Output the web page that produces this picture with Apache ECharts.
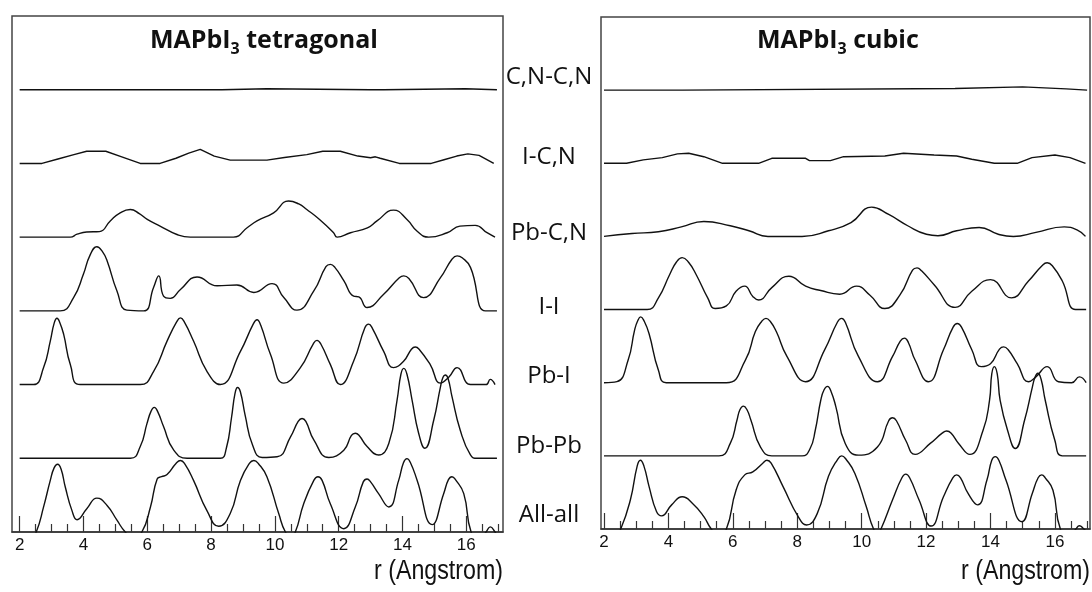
<!DOCTYPE html>
<html>
<head>
<meta charset="utf-8">
<script src="https://cdn.jsdelivr.net/npm/echarts@6/dist/echarts.min.js"></script>
<style>
  html, body { margin: 0; padding: 0; background: #ffffff; }
  #main { width: 1092px; height: 592px; }
</style>
</head>
<body>
<div id="main"></div>
<script>
// Pair partial distribution functions, listed top to bottom
const pairLabels = ['C,N-C,N', 'I-C,N', 'Pb-C,N', 'I-I', 'Pb-I', 'Pb-Pb', 'All-all'];

// r axis ticks (Angstrom)
const majorTicks = [2, 4, 6, 8, 10, 12, 14, 16];
const minorTicks = [2.5, 3, 3.5, 4.5, 5, 5.5, 6.5, 7, 7.5, 8.5, 9, 9.5, 10.5, 11, 11.5,
                    12.5, 13, 13.5, 14.5, 15, 15.5, 16.5, 17];

// ---- MAPbI3 tetragonal: [r, g(r)] relative to each curve's own baseline ----
const tetCNCN = [[2.0,0],[7.74,0],[7.77,0.014],[7.83,0],[8.34,0],[8.36,0.014],[9.75,0.014],[9.78,0],
  [12.99,0],[13.02,0.014],[13.2,0],[13.41,0],[13.43,0.014],[15.97,0.014],[16.0,0],[16.96,0]];
const tetICN = [[2.0,0],[2.7,0],[3.2,0.06],[3.7,0.12],[4.1,0.165],[4.7,0.165],[5.2,0.09],[5.78,0],
  [6.4,0],[6.9,0.07],[7.3,0.14],[7.66,0.19],[8.1,0.1],[8.6,0.045],[9.75,0.045],[10.3,0.08],[11.0,0.12],
  [11.5,0.165],[12.05,0.165],[12.6,0.1],[13.0,0.077],[13.15,0.09],[13.3,0.07],[13.9,0],[14.9,0],
  [15.3,0.05],[15.7,0.1],[16.05,0.13],[16.4,0.11],[16.86,0]];
const tetPbCN = [[2.0,0],[3.59,0],[3.8,0.04],[4.1,0.07],[4.5,0.075],[4.84,0.22],[5.15,0.33],[5.47,0.375],
  [5.75,0.32],[6.0,0.24],[6.4,0.15],[6.93,0.036],[7.35,0],[8.7,0],[9.13,0.127],[9.44,0.22],[9.96,0.33],
  [10.43,0.49],[10.75,0.45],[11.0,0.375],[11.4,0.24],[11.84,0.06],[11.95,0],[12.37,0.06],[12.9,0.127],
  [13.2,0.22],[13.72,0.366],[14.14,0.24],[14.46,0.08],[14.82,0],[15.4,0.06],[15.8,0.15],[16.28,0.16],
  [16.65,0.06],[16.9,0]];
const tetII = [[2.0,0],[3.27,0],[3.69,0.18],[4.0,0.5],[4.2,0.75],[4.42,0.87],[4.6,0.8],[4.74,0.68],
  [5.05,0.27],[5.36,0.01],[5.89,0],[6.2,0.32],[6.36,0.475],[6.51,0.2],[6.72,0.17],[7.04,0.29],[7.56,0.46],
  [8.19,0.34],[8.81,0.35],[9.34,0.25],[9.91,0.37],[10.28,0.18],[10.69,0.01],[11.22,0.27],[11.6,0.6],
  [11.74,0.63],[11.88,0.59],[12.16,0.41],[12.47,0.2],[12.63,0.19],[12.89,0.045],[13.41,0.226],
  [13.9,0.45],[14.04,0.475],[14.2,0.44],[14.66,0.18],[15.19,0.45],[15.55,0.7],[15.71,0.746],
  [15.87,0.72],[16.13,0.59],[16.6,0],[16.96,0]];
const tetPbI = [[2.0,0],[2.44,0],[2.75,0.23],[2.96,0.59],[3.08,0.83],[3.17,0.9],[3.26,0.84],[3.38,0.68],
  [3.59,0.27],[3.9,0],[5.78,0],[6.2,0.18],[6.62,0.59],[6.92,0.85],[7.04,0.905],[7.16,0.85],[7.45,0.59],
  [7.87,0.18],[8.29,0],[8.92,0.45],[9.32,0.82],[9.44,0.88],[9.56,0.8],[9.86,0.41],[10.28,0.02],
  [10.8,0.23],[11.2,0.55],[11.32,0.6],[11.44,0.55],[11.74,0.27],[12.05,0],[12.47,0.32],[12.82,0.77],
  [12.94,0.82],[13.06,0.76],[13.41,0.45],[13.72,0.23],[14.04,0.32],[14.28,0.48],[14.4,0.51],
  [14.52,0.48],[14.87,0.27],[15.19,0.02],[15.45,0.1],[15.71,0.23],[16.13,0],[16.62,0],[16.75,0.07],
  [16.9,0]];
const tetPbPb = [[2.0,0],[5.47,0],[5.78,0.16],[5.99,0.47],[6.12,0.64],[6.22,0.69],[6.33,0.63],[6.51,0.43],
  [6.83,0.11],[7.25,0],[8.29,0],[8.48,0.14],[8.64,0.55],[8.75,0.88],[8.83,0.96],[8.92,0.9],[9.07,0.58],
  [9.3,0.18],[9.6,0.01],[10.07,0.02],[10.49,0.29],[10.73,0.5],[10.85,0.54],[10.97,0.5],[11.22,0.25],
  [11.69,0.01],[12.16,0.11],[12.4,0.31],[12.52,0.34],[12.64,0.31],[12.89,0.16],[13.25,0.045],
  [13.57,0.2],[13.83,0.79],[13.95,1.14],[14.04,1.22],[14.14,1.14],[14.3,0.79],[14.5,0.35],[14.7,0.136],
  [14.98,0.52],[15.19,0.97],[15.27,1.1],[15.34,1.13],[15.43,1.08],[15.55,0.84],[15.81,0.38],
  [16.13,0.045],[16.34,0],[16.96,0]];
const tetAll = [[2.0,-0.3],[2.3,-0.15],[2.52,0],[2.75,0.34],[2.96,0.7],[3.08,0.87],[3.19,0.92],
  [3.3,0.85],[3.43,0.61],[3.64,0.29],[3.8,0.167],[4.11,0.32],[4.42,0.46],[4.74,0.36],[5.05,0.16],
  [5.31,0],[5.55,-0.08],[5.83,0],[6.1,0.34],[6.31,0.72],[6.45,0.75],[6.62,0.78],[6.9,0.93],[7.04,0.97],
  [7.18,0.92],[7.45,0.7],[7.87,0.29],[8.24,0.077],[8.6,0.25],[8.92,0.7],[9.2,0.93],[9.34,0.97],
  [9.48,0.93],[9.75,0.75],[10.12,0.25],[10.33,0],[10.5,-0.05],[10.64,0],[10.9,0.38],[11.22,0.7],
  [11.35,0.75],[11.48,0.7],[11.74,0.38],[12.16,0.045],[12.52,0.34],[12.77,0.68],[12.89,0.72],
  [13.0,0.68],[13.25,0.52],[13.57,0.34],[13.88,0.7],[14.03,0.94],[14.14,0.995],[14.25,0.94],
  [14.46,0.7],[14.93,0.1],[15.29,0.52],[15.44,0.71],[15.55,0.75],[15.66,0.71],[15.92,0.52],[16.15,0],
  [16.4,-0.1],[16.62,0],[16.75,0.07],[16.9,0],[16.96,-0.05]];

// ---- MAPbI3 cubic ----
const cubCNCN = [[2.0,0],[4.45,0],[4.47,0.023],[12.9,0.023],[12.92,0.045],[15.0,0.045],[15.02,0.018],
  [16.35,0.018],[16.37,0],[17.0,0]];
const cubICN = [[2.0,0],[2.7,0],[3.22,0.046],[3.81,0.077],[4.28,0.128],[4.63,0.137],[5.1,0.09],[5.68,0],
  [6.8,0],[7.21,0.068],[8.26,0.068],[8.38,0.036],[9.03,0.036],[9.44,0.09],[10.72,0.1],[11.3,0.137],
  [12.25,0.114],[12.95,0.1],[13.42,0.055],[14.12,0],[14.83,0],[15.29,0.077],[16.0,0.114],[16.47,0.077],
  [16.95,0]];
const cubPbCN = [[2.0,0],[2.87,0.04],[3.69,0.064],[4.4,0.13],[5.1,0.205],[5.92,0.146],[6.5,0.077],
  [7.09,0],[8.15,0],[8.97,0.077],[9.67,0.19],[10.31,0.4],[10.84,0.3],[11.43,0.146],[12.01,0.03],
  [12.37,0.01],[12.95,0.077],[13.65,0.123],[14.24,0.03],[14.71,0],[15.41,0.055],[16.29,0.13],
  [16.7,0.087],[16.95,0]];
const cubII = [[2.0,0],[3.34,0],[3.69,0.16],[4.04,0.48],[4.25,0.65],[4.43,0.71],[4.62,0.65],[4.86,0.48],
  [5.22,0.16],[5.45,0.014],[5.8,0.05],[6.1,0.25],[6.37,0.32],[6.62,0.18],[6.8,0.13],[7.21,0.3],
  [7.74,0.456],[8.26,0.32],[8.73,0.26],[9.32,0.21],[9.84,0.32],[10.25,0.2],[10.72,0.014],[11.19,0.2],
  [11.58,0.54],[11.72,0.57],[11.86,0.53],[12.25,0.34],[12.9,0.03],[13.42,0.25],[14.0,0.41],[14.65,0.16],
  [15.18,0.39],[15.6,0.6],[15.76,0.64],[15.92,0.6],[16.23,0.39],[16.64,0],[16.97,0]];
const cubPbI = [[2.0,0],[2.4,0.014],[2.75,0.31],[2.95,0.72],[3.05,0.85],[3.14,0.9],[3.25,0.84],[3.4,0.67],
  [3.69,0.17],[3.93,0],[5.8,0],[6.39,0.31],[6.7,0.7],[6.9,0.84],[7.03,0.88],[7.16,0.84],[7.35,0.7],
  [7.68,0.36],[8.26,0.014],[8.85,0.45],[9.25,0.83],[9.38,0.88],[9.5,0.82],[9.9,0.36],[10.49,0.014],
  [10.96,0.36],[11.2,0.57],[11.33,0.61],[11.45,0.55],[11.66,0.31],[12.07,0.014],[12.54,0.45],
  [12.84,0.76],[12.97,0.81],[13.1,0.76],[13.42,0.45],[13.71,0.22],[14.0,0.26],[14.28,0.46],
  [14.41,0.49],[14.55,0.45],[14.83,0.26],[15.18,0.014],[15.41,0.08],[15.76,0.22],[16.11,0.014],
  [16.52,0],[16.76,0.08],[16.97,0]];
const cubPbPb = [[2.0,0],[5.57,0],[5.92,0.17],[6.13,0.49],[6.22,0.63],[6.33,0.68],[6.44,0.63],
  [6.56,0.49],[6.86,0.12],[7.21,0],[8.15,0],[8.4,0.1],[8.56,0.35],[8.73,0.76],[8.83,0.9],[8.94,0.95],
  [9.05,0.88],[9.2,0.67],[9.49,0.17],[9.9,0.01],[10.49,0.12],[10.84,0.48],[10.96,0.52],[11.08,0.48],
  [11.37,0.21],[11.66,0.02],[12.13,0.17],[12.5,0.31],[12.64,0.34],[12.78,0.31],[13.01,0.17],
  [13.36,0.02],[13.77,0.35],[13.97,0.76],[14.04,1.12],[14.12,1.22],[14.21,1.12],[14.3,0.76],
  [14.53,0.35],[14.77,0.1],[15.06,0.49],[15.3,0.94],[15.38,1.07],[15.47,1.13],[15.57,1.05],[15.7,0.76],
  [16.0,0.21],[16.23,0],[16.97,0]];
const cubAll = [[2.0,-0.3],[2.3,-0.15],[2.52,0],[2.82,0.4],[3.03,0.86],[3.13,0.94],[3.24,0.86],
  [3.4,0.58],[3.63,0.24],[3.79,0.18],[4.1,0.33],[4.43,0.44],[4.75,0.35],[5.1,0.17],[5.33,0],
  [5.55,-0.08],[5.8,0],[6.1,0.53],[6.37,0.74],[6.62,0.78],[6.93,0.9],[7.06,0.94],[7.19,0.9],[7.56,0.58],
  [8.03,0.17],[8.29,0.055],[8.62,0.21],[8.97,0.72],[9.25,0.95],[9.38,1.0],[9.52,0.95],[9.79,0.76],
  [10.14,0.31],[10.37,0],[10.5,-0.05],[10.6,0],[10.96,0.4],[11.25,0.7],[11.37,0.75],[11.49,0.7],
  [11.78,0.4],[12.16,0.04],[12.54,0.44],[12.83,0.7],[12.95,0.74],[13.07,0.7],[13.3,0.49],[13.6,0.33],
  [13.89,0.67],[14.04,0.94],[14.15,0.99],[14.26,0.94],[14.48,0.67],[14.98,0.1],[15.3,0.49],[15.48,0.7],
  [15.59,0.74],[15.7,0.7],[15.94,0.53],[16.17,0],[16.45,-0.1],[16.65,0],[16.76,0.045],[16.9,0],
  [16.97,-0.03]];

const tetragonal = [tetCNCN, tetICN, tetPbCN, tetII, tetPbI, tetPbPb, tetAll];
const cubic = [cubCNCN, cubICN, cubPbCN, cubII, cubPbI, cubPbPb, cubAll];

const chart = echarts.init(document.getElementById('main'), null, { renderer: 'canvas' });

const AXIS_FONT = "'Liberation Sans', Arial, sans-serif";
const LABEL_FONT = "'Open Sans', 'Noto Sans', sans-serif";

// each curve is lifted by one unit per row above the bottom one
function stackedSeries(curves, xIdx, yIdx) {
  const n = curves.length;
  return curves.map((pts, k) => ({
    name: pairLabels[k],
    type: 'line',
    xAxisIndex: xIdx,
    yAxisIndex: yIdx,
    data: pts.map(([r, g]) => [r, g + (n - 1 - k)]),
    showSymbol: false,
    smooth: k < 2 ? false : 0.5,
    clip: true,
    lineStyle: { color: '#111', width: 1.4 },
    emphasis: { disabled: true },
    silent: true,
    z: 3
  }));
}

function mainX(grid, min, max) {
  return {
    type: 'value', gridIndex: grid, min: min, max: max, position: 'bottom',
    splitLine: { show: false },
    axisLine: { show: true, onZero: false, lineStyle: { color: '#333', width: 1.5 } },
    axisTick: { show: true, inside: true, length: 16, customValues: majorTicks,
                lineStyle: { color: '#333', width: 1.2 } },
    axisLabel: { show: true, customValues: majorTicks, margin: 5, color: '#111',
                 fontFamily: AXIS_FONT, fontSize: 17 }
  };
}
function minorX(grid, min, max) {
  return {
    type: 'value', gridIndex: grid, min: min, max: max, position: 'bottom',
    splitLine: { show: false },
    axisLine: { show: false },
    axisTick: { show: true, inside: true, length: 8, customValues: minorTicks,
                lineStyle: { color: '#333', width: 1.2 } },
    axisLabel: { show: false }
  };
}
function hiddenY(grid) {
  return { type: 'value', gridIndex: grid, min: 0, max: 7, show: false,
           splitLine: { show: false } };
}

const titleRich = {
  a: { fontFamily: LABEL_FONT, fontWeight: 'bold', fontSize: 25, lineHeight: 34, fill: '#111', verticalAlign: 'middle' },
  s: { fontFamily: LABEL_FONT, fontWeight: 'bold', fontSize: 16, lineHeight: 16, fill: '#111', verticalAlign: 'bottom' }
};

// axis title, narrowed horizontally like a condensed face
function axisTitle(rightX) {
  return {
    type: 'text', x: rightX, y: 572, scaleX: 0.86,
    style: { text: 'r (Angstrom)', fontFamily: AXIS_FONT, fontSize: 27, fill: '#111',
             align: 'right', verticalAlign: 'middle' }
  };
}

const labelRows = [77, 157, 233, 307, 376, 446, 515];
const labelGraphics = pairLabels.map((t, k) => ({
  type: 'text', x: 549, y: labelRows[k],
  style: { text: t, fontFamily: LABEL_FONT, fontSize: 24, fill: '#111',
           align: 'center', verticalAlign: 'middle' }
}));

const option = {
  backgroundColor: '#ffffff',
  animation: false,
  grid: [
    { left: 12, top: 16, width: 491, height: 516, show: true,
      borderColor: '#444', borderWidth: 1.5, backgroundColor: 'transparent' },
    { left: 601, top: 17, width: 489, height: 512, show: true,
      borderColor: '#444', borderWidth: 1.5, backgroundColor: 'transparent' }
  ],
  xAxis: [
    mainX(0, 1.76, 17.15),
    minorX(0, 1.76, 17.15),
    mainX(1, 1.907, 17.09),
    minorX(1, 1.907, 17.09)
  ],
  yAxis: [hiddenY(0), hiddenY(1)],
  series: [].concat(stackedSeries(tetragonal, 0, 0), stackedSeries(cubic, 2, 1)),
  graphic: [
    { type: 'text', left: 150, top: 28,
      style: { text: '{a|MAPbI}{s|3}{a| tetragonal}', rich: titleRich } },
    { type: 'text', left: 757, top: 28,
      style: { text: '{a|MAPbI}{s|3}{a| cubic}', rich: titleRich } },
    axisTitle(503),
    axisTitle(1090)
  ].concat(labelGraphics)
};

chart.setOption(option);
</script>
</body>
</html>
